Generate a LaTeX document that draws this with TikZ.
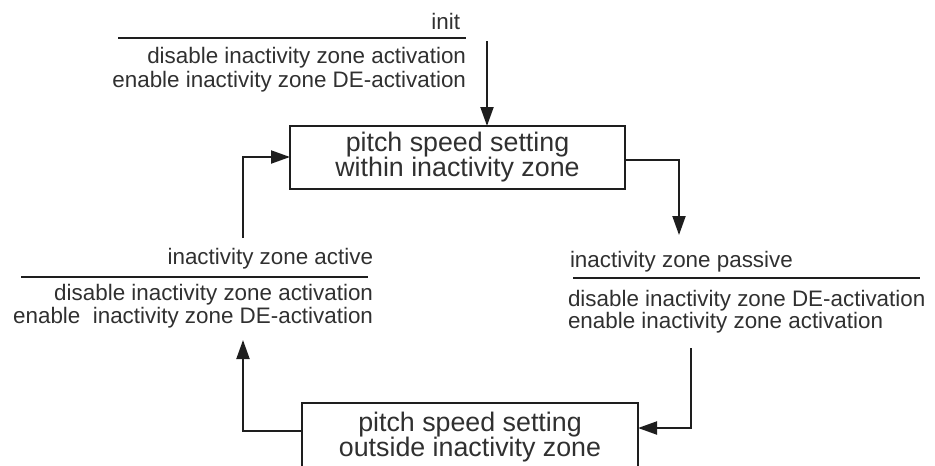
\documentclass[tikz,border=0pt]{standalone}
\usepackage{fontspec}
\setmainfont{Liberation Sans}
\usetikzlibrary{arrows.meta}
\definecolor{ink}{HTML}{1E1E1E}
\definecolor{txt}{HTML}{303030}
\begin{document}
\begin{tikzpicture}[x=0.75pt,y=-0.75pt,
  every node/.style={inner sep=0pt,outer sep=0pt,text=txt},
  small/.style={font=\fontsize{16.8}{20}\selectfont},
  statebox/.style={draw=ink,line width=1.5pt,minimum width=335*0.75pt,minimum height=63*0.75pt,
    align=center,font=\fontsize{20.1}{18.8}\selectfont},
  rule/.style={draw=ink,line width=1.6pt},
  arr/.style={draw=ink,line width=1.5pt,-{Triangle[length=14.25pt,width=9.75pt]}},
  link/.style={draw=ink,line width=1.5pt}]
\useasboundingbox (0,0) rectangle (935,465);
\clip (0,0) rectangle (935,465);

% the two states (the lower one runs past the bottom edge)
\node[statebox] (within) at (457.5,157.5) {pitch speed setting\\within inactivity zone};
\node[statebox,minimum width=336*0.75pt,minimum height=68*0.75pt] (outside) at (470,437) {pitch speed setting\\outside inactivity zone};

% initial transition label
\node[small,anchor=base east] (initg) at (460,29) {init};
\node[small,anchor=base east] (inita1) at (466,63) {disable inactivity zone activation};
\node[small,anchor=base east] (inita2) at (466,87) {enable inactivity zone DE-activation};
\coordinate (initL) at (118,38);
\coordinate (initR) at (466,38);
\draw[rule] (initL) -- (initR);

% transition within -> outside
\node[small,anchor=base west] (passg) at (570,267) {inactivity zone passive};
\node[small,anchor=base west] (passa1) at (568,306) {disable inactivity zone DE-activation};
\node[small,anchor=base west] (passa2) at (568,328) {enable inactivity zone activation};
\coordinate (passL) at (573,278);
\coordinate (passR) at (920,278);
\draw[rule] (passL) -- (passR);

% transition outside -> within
\node[small,anchor=base east] (actg) at (373,264) {inactivity zone active};
\node[small,anchor=base east] (acta1) at (373,300) {disable inactivity zone activation};
\node[small,anchor=base east] (acta2) at (373,323) {enable\ \ inactivity zone DE-activation};
\coordinate (actL) at (21,277);
\coordinate (actR) at (368,277);
\draw[rule] (actL) -- (actR);

% connectors
\coordinate (initTop) at (487,41);
\draw[arr] (initTop) -- (initTop |- within.north);

\coordinate (wOut) at (625,160);
\coordinate (wCorner) at (679,160);
\coordinate (passTip) at (679,235);
\draw[arr] (wOut) -- (wCorner) -- (passTip);

\coordinate (passBot) at (691,348);
\coordinate (oCorner) at (691,428);
\draw[arr] (passBot) -- (oCorner) -- (oCorner -| outside.east);

\coordinate (oCornerL) at (243,431);
\coordinate (actTip) at (243,340);
\draw[arr] (oCornerL -| outside.west) -- (oCornerL) -- (actTip);

\coordinate (actTop) at (243,238);
\coordinate (wCornerL) at (243,157);
\draw[arr] (actTop) -- (wCornerL) -- (wCornerL -| within.west);
\end{tikzpicture}
\end{document}
